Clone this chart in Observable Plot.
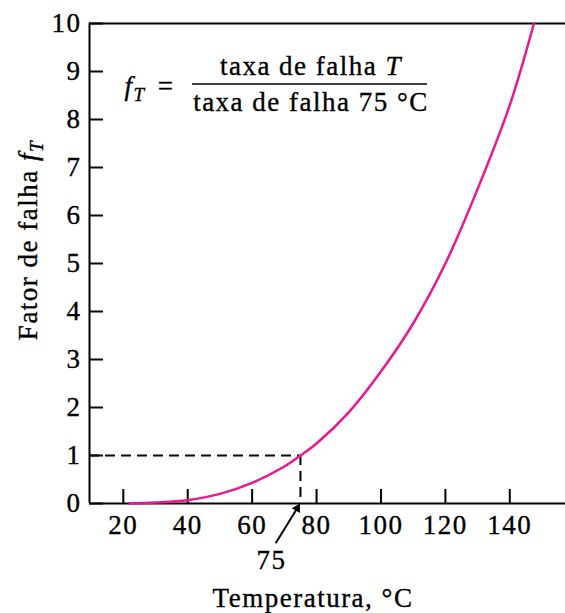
<!DOCTYPE html>
<html><head><meta charset="utf-8">
<script src="https://cdn.jsdelivr.net/npm/d3@7"></script>
<script src="https://cdn.jsdelivr.net/npm/@observablehq/plot@0.6"></script>
<style>html,body{margin:0;padding:0;background:#fff} svg{display:block} svg text{stroke:#000;stroke-width:0.35px}</style>
</head><body><div id="chart"></div>
<script>
// Data
const temperatures = [22, 30, 40, 50, 60, 70, 75, 80, 90, 100, 110, 120, 130, 140, 147.5];
const failureFactor = [0.0, 0.02, 0.07, 0.2, 0.43, 0.77, 1.0, 1.25, 1.9, 2.75, 3.75, 5.0, 6.55, 8.3, 10];
const xTicks = [20, 40, 60, 80, 100, 120, 140];
const yTicks = [0, 1, 2, 3, 4, 5, 6, 7, 8, 9, 10];
const xDomain = [9.5, 157.3];
const yDomain = [0, 10];
const refTemp = 75;
const refFactor = 1;
const refLabel = "75";
const arrowNote = [{x1: 67.3, y1: -0.83, x2: 74.0, y2: -0.1}];
const refLabelPos = [{x: 66, y: -1.19, text: refLabel}];
const xTitle = "Temperatura, °C";
const yTitle = "Fator de falha ";

const curve = temperatures.map((t, i) => ({t, f: failureFactor[i]}));
const ink = "#000";
const pink = "#ec168f";

const svg = Plot.plot({
  width: 565, height: 613,
  marginLeft: 89, marginRight: 0, marginTop: 23, marginBottom: 110,
  style: {fontFamily: '"Liberation Serif", "Times New Roman", serif', fontSize: "27px", letterSpacing: "1.5px", color: ink, background: "#fff", overflow: "visible"},
  x: {domain: xDomain, label: null},
  y: {domain: yDomain, label: null},
  marks: [
    Plot.axisX(xTicks, {tickSize: -14, tickPadding: 25, strokeWidth: 2, label: null}),
    Plot.axisY(yTicks, {tickSize: -14, tickPadding: 22, strokeWidth: 2, label: null}),
    Plot.ruleY(yDomain, {strokeWidth: 2, stroke: ink}),
    Plot.ruleX([xDomain[0]], {strokeWidth: 2, stroke: ink}),
    Plot.ruleY([refFactor], {x1: xDomain[0], x2: refTemp, stroke: ink, strokeWidth: 2, strokeDasharray: "10,6"}),
    Plot.ruleX([refTemp], {y1: refFactor, y2: 0, stroke: ink, strokeWidth: 2, strokeDasharray: "10,6"}),
    Plot.line(curve, {x: "t", y: "f", curve: "catmull-rom", stroke: pink, strokeWidth: 2.5}),
    Plot.link(arrowNote, {x1: "x1", y1: "y1", x2: "x2", y2: "y2", stroke: ink, strokeWidth: 2, clip: false}),
    Plot.dot(arrowNote, {x: "x2", y: "y2", symbol: "triangle2", r: 4.5, rotate: 30, fill: ink, stroke: "none", clip: false}),
    Plot.text(refLabelPos, {x: "x", y: "y", text: "text", fill: ink, lineAnchor: "middle", clip: false})
  ]
});
document.getElementById("chart").appendChild(svg);

const s = d3.select(svg);
const g = s.append("g").attr("fill", ink);
// y title
const yl = g.append("text").attr("transform", "translate(37,240) rotate(-90)").attr("text-anchor", "middle");
yl.append("tspan").text(yTitle);
yl.append("tspan").attr("font-style", "italic").text("f");
yl.append("tspan").attr("font-style", "italic").attr("font-size", "19px").attr("dy", 6).text("T");
// x title
g.append("text").attr("x", 313).attr("y", 607).attr("text-anchor", "middle").text(xTitle);
// formula
const fl = g.append("text").attr("x", 135).attr("y", 95);
fl.append("tspan").attr("font-style", "italic").text("f");
fl.append("tspan").attr("font-style", "italic").attr("font-size", "19px").attr("dy", 6).text("T");
g.append("text").attr("x", 166).attr("y", 95).text("=");
g.append("line").attr("x1", 192).attr("x2", 427).attr("y1", 84).attr("y2", 84).attr("stroke", ink).attr("stroke-width", 1.5);
const num = g.append("text").attr("x", 311).attr("y", 75).attr("text-anchor", "middle");
num.append("tspan").text("taxa de falha ");
num.append("tspan").attr("font-style", "italic").text("T");
g.append("text").attr("x", 311).attr("y", 111).attr("text-anchor", "middle").text("taxa de falha 75 °C");
</script>
</body></html>
